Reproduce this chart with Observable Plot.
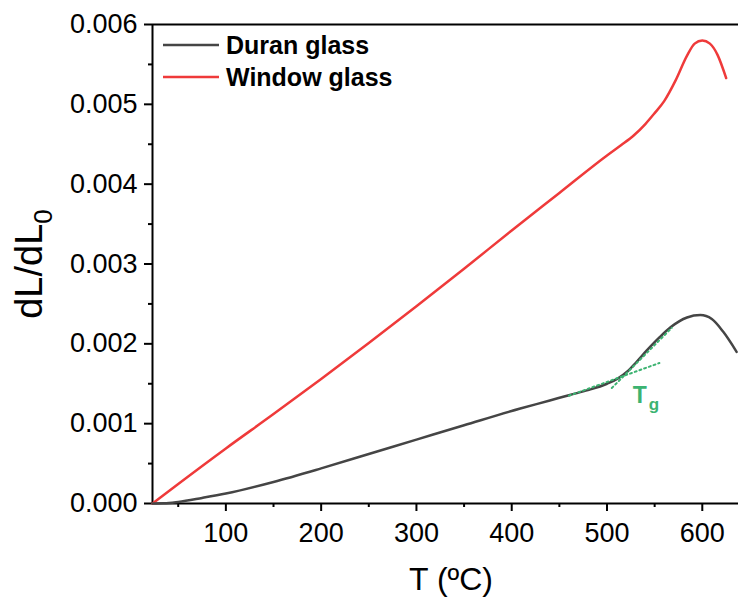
<!DOCTYPE html>
<html><head><meta charset="utf-8">
<script src="https://cdn.jsdelivr.net/npm/d3@7"></script>
<script src="https://cdn.jsdelivr.net/npm/@observablehq/plot@0.6"></script>
<style>body{margin:0;background:#fff;}</style>
</head><body><div id="chart"></div>
<script>
// Duran glass
const duranT = [23, 35, 50, 75, 100, 150, 200, 250, 300, 350, 409, 440, 461, 480, 500, 512, 521, 530, 542, 555, 567, 584, 598, 610, 622, 636];
const duranV = [0, 0.000002, 0.00002, 0.00007, 0.000125, 0.00027, 0.00044, 0.00062, 0.0008, 0.00098, 0.00119, 0.00129, 0.00136, 0.00142, 0.0015, 0.00157, 0.00165, 0.00176, 0.00192, 0.00208, 0.00221, 0.00233, 0.00236, 0.00231, 0.00215, 0.0019];
// Window glass
const windowT = [23, 50, 100, 150, 200, 250, 300, 350, 400, 450, 500, 515, 528, 540, 550, 560, 572, 584, 592, 600, 608, 616, 625];
const windowV = [0, 0.000245, 0.00069, 0.00112, 0.00156, 0.00201, 0.00247, 0.00294, 0.00342, 0.00389, 0.00436, 0.00449, 0.00461, 0.00475, 0.00489, 0.00504, 0.0053, 0.00561, 0.00576, 0.0058, 0.00576, 0.00562, 0.00533];
// Tg tangent lines
const tangent1T = [460, 555];
const tangent1V = [0.00135, 0.00176];
const tangent2T = [505, 568];
const tangent2V = [0.001446, 0.0022];
const tgLabelT = [527];
const tgLabelV = [0.00126];
// ticks
const yMajorTicks = [0, 0.001, 0.002, 0.003, 0.004, 0.005, 0.006];
const yMinorTicks = [0.0005, 0.0015, 0.0025, 0.0035, 0.0045, 0.0055];
const xMajorTicks = [100, 200, 300, 400, 500, 600];
const xMinorTicks = [50, 150, 250, 350, 450, 550];
const seriesNames = ["Duran glass", "Window glass"];
const seriesColors = ["#454545", "#ef3a3a"];

const zip = (a, b) => a.map((t, i) => ({T: t, v: b[i]}));
const duran = zip(duranT, duranV);
const windowG = zip(windowT, windowV);
const tan1 = zip(tangent1T, tangent1V);
const tan2 = zip(tangent2T, tangent2V);
const tg = zip(tgLabelT, tgLabelV);

const green = "#3cb371";
const plot = Plot.plot({
  width: 738, height: 598,
  marginLeft: 152, marginTop: 24, marginBottom: 95, marginRight: 0,
  style: {fontFamily: "'Liberation Sans', Arial, sans-serif", fontSize: "27px", color: "#000", background: "#fff"},
  x: {domain: [23, 638]},
  y: {domain: [0, 0.006]},
  marks: [
    Plot.axisY(yMajorTicks, {tickSize: 8, tickPadding: 7, strokeWidth: 2, tickFormat: d3.format(".3f"), label: null}),
    Plot.axisY(yMinorTicks, {tickSize: 4, strokeWidth: 2, tickFormat: () => "", label: null}),
    Plot.axisX(xMajorTicks, {tickSize: 8, tickPadding: 11, strokeWidth: 2, tickFormat: d3.format("d"), label: null}),
    Plot.axisX(xMinorTicks, {tickSize: 4, strokeWidth: 2, tickFormat: () => "", label: null}),
    Plot.ruleX([23], {strokeWidth: 2}),
    Plot.ruleY([0, 0.006], {strokeWidth: 2}),
    Plot.line(windowG, {x: "T", y: "v", stroke: seriesColors[1], strokeWidth: 2.5, curve: "monotone-x"}),
    Plot.line(duran, {x: "T", y: "v", stroke: seriesColors[0], strokeWidth: 2.5, curve: "monotone-x"}),
    Plot.line(tan1, {x: "T", y: "v", stroke: green, strokeWidth: 2, strokeDasharray: "2,3"}),
    Plot.line(tan2, {x: "T", y: "v", stroke: green, strokeWidth: 2, strokeDasharray: "2,3"}),
    Plot.text(tg, {x: "T", y: "v", text: () => "T", fill: green, fontWeight: "bold", fontSize: 23, textAnchor: "start", lineAnchor: "bottom"}),
    Plot.text(tg, {x: "T", y: "v", text: () => "g", fill: green, fontWeight: "bold", fontSize: 17, textAnchor: "start", lineAnchor: "bottom", dx: 16, dy: 7})
  ]
});
document.getElementById("chart").appendChild(plot);

const svg = d3.select(plot);
// y label
const yl = svg.append("text")
  .attr("transform", "translate(42,264) rotate(-90)")
  .attr("text-anchor", "middle")
  .attr("font-size", 38)
  .attr("fill", "#000");
yl.append("tspan").text("dL/dL");
yl.append("tspan").attr("font-size", 26).attr("dy", 10).text("0");
// x label
svg.append("text")
  .attr("x", 451).attr("y", 590)
  .attr("text-anchor", "middle")
  .attr("font-size", 32)
  .attr("fill", "#000")
  .text("T (ºC)");
// legend
const legY = [45, 77];
seriesNames.forEach((name, i) => {
  svg.append("line").attr("x1", 163).attr("x2", 219).attr("y1", legY[i]).attr("y2", legY[i])
    .attr("stroke", seriesColors[i]).attr("stroke-width", 2.5);
  svg.append("text").attr("x", 226).attr("y", legY[i] + 9)
    .attr("text-anchor", "start")
    .attr("font-size", 25).attr("font-weight", "bold").attr("fill", "#000")
    .text(name);
});
</script>
</body></html>
